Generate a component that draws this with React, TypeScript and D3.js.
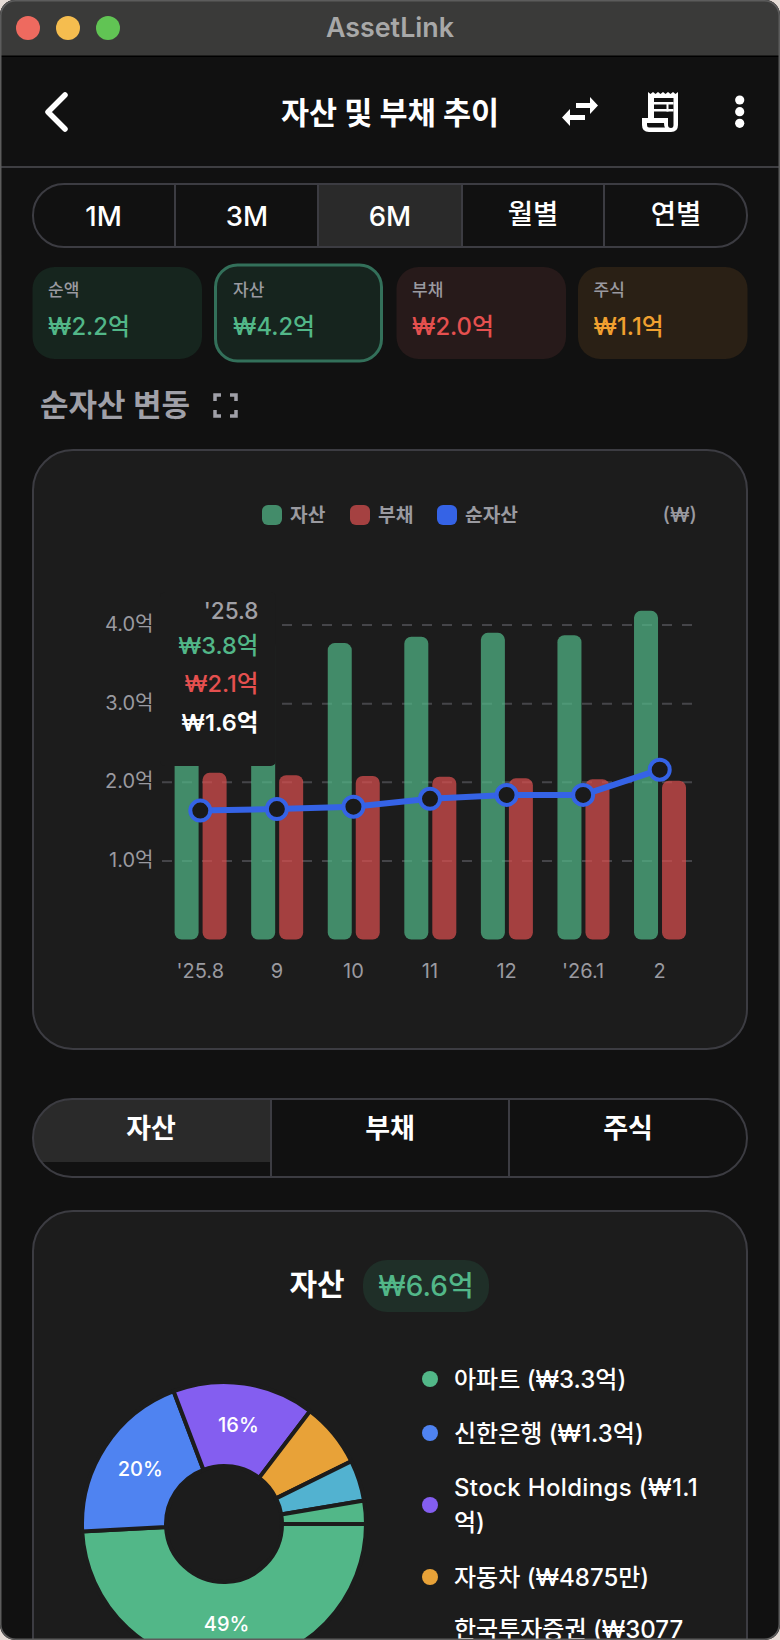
import React from "react";
import * as d3 from "d3";

const months = ["'25.8", "9", "10", "11", "12", "'26.1", "2"];
const assets = [3.8, 3.82, 3.77, 3.85, 3.9, 3.87, 4.18];
const liabilities = [2.12, 2.09, 2.08, 2.07, 2.05, 2.04, 2.02];
const netAssets = [1.64, 1.66, 1.69, 1.79, 1.84, 1.84, 2.16];
const yTicks = [1, 2, 3, 4];
const periodTabs = ["1M", "3M", "6M", "월별", "연별"];
const periodX = [103.5, 247, 390, 533, 676];
const periodDividers = [175, 318, 462, 604];
const summaryLabels = ["순액", "자산", "부채", "주식"];
const summaryValues = ["₩2.2억", "₩4.2억", "₩2.0억", "₩1.1억"];
const summaryColors = ["#52b788", "#52b788", "#e5504f", "#f0a030"];
const summaryFills = ["#16251e", "#16241e", "#271a1a", "#2a2015"];
const summaryBoxes = [32.5, 214, 396.5, 578];
const tooltipLines = ["'25.8", "₩3.8억", "₩2.1억", "₩1.6억"];
const tooltipColors = ["#a0a0a6", "#52b788", "#e5504f", "#ffffff"];
const tooltipY = [610, 645, 683, 722];
const detailTabs = ["자산", "부채", "주식"];
const detailX = [151, 390, 628];
const pieValues = [3.26, 1.33, 1.07, 0.4875, 0.3077, 0.175];
const pieColors = ["#52b788", "#4f83f1", "#845ef0", "#e8a238", "#52b2d0", "#52b788"];
const pieLegend = [
  { color: "#52b788", lines: ["아파트 (₩3.3억)"], y: 1379 },
  { color: "#4f83f1", lines: ["신한은행 (₩1.3억)"], y: 1433 },
  { color: "#845ef0", lines: ["Stock Holdings (₩1.1", "억)"], y: 1505 },
  { color: "#e8a238", lines: ["자동차 (₩4875만)"], y: 1577 },
];
const pieLegendCut = "한국투자증권 (₩3077";

const FONT = 'Inter, "Noto Sans CJK KR", sans-serif';
const BG = "#111111";
const CARD = "#1c1c1c";
const BORDER = "#3c3c42";
const GREY = "#9a9aa0";

const y = d3.scaleLinear().domain([0, 4]).range([939.6, 625]);
const x0 = d3.scaleBand<string>().domain(months).range([162, 698]);
const x1 = d3.scaleBand<string>().domain(["a", "l"]).range([12.6, 64.6]).paddingInner(1 / 7);
const netLine = d3
  .line<number>()
  .x((_, i) => (x0(months[i]) as number) + x0.bandwidth() / 2)
  .y((d) => y(d));
const pieGen = d3
  .pie<number>()
  .sort(null)
  .startAngle(Math.PI / 2)
  .endAngle(Math.PI / 2 + 2 * Math.PI);
const arcGen = d3.arc<d3.PieArcDatum<number>>().innerRadius(58).outerRadius(142);
const pieArcs = pieGen(pieValues);
const total = d3.sum(pieValues);

export default function App() {
  return (
    <svg
      width={780}
      height={1640}
      viewBox="0 0 780 1640"
      style={{ position: "fixed", left: 0, top: 0, display: "block" }}
      fontFamily={FONT}
    >
      <defs>
        <clipPath id="win">
          <rect x={0} y={0} width={780} height={1640} rx={15} />
        </clipPath>
        <clipPath id="seg2">
          <rect x={33} y={1099} width={714} height={78} rx={39} />
        </clipPath>
        <clipPath id="seg1">
          <rect x={33} y={184} width={714} height={63} rx={31} />
        </clipPath>
      </defs>
      <rect width={780} height={1640} fill="#e6dcd6" />
      <g clipPath="url(#win)">
        <rect width={780} height={1640} fill={BG} />
        <rect width={780} height={56} fill="#3a3a39" />
        <rect y={55.5} width={780} height={1.5} fill="#000" />
        {[["#ee6a5f", 28], ["#f5bd4f", 68], ["#61c454", 108]].map(([c, cx]) => (
          <circle key={c as string} cx={cx as number} cy={28} r={12} fill={c as string} />
        ))}
        <text x={390} y={27} textAnchor="middle" dominantBaseline="central" fontSize={26.8} fontWeight={600} fill="#a8a8a8">
          AssetLink
        </text>

        <path d="M65 95 L48 112 L65 129" fill="none" stroke="#fff" strokeWidth={5.5} strokeLinecap="round" strokeLinejoin="round" />
        <text x={390} y={112} textAnchor="middle" dominantBaseline="central" fontSize={30.5} fontWeight={700} fill="#fff">
          자산 및 부채 추이
        </text>
        <path d="M576 103 H590 V97 L598 105.5 L590 114 V108 H576 Z" fill="#fff" />
        <path d="M585 115 H570 V109 L562 117.5 L570 126 V120 H585 Z" fill="#fff" />
        <path
          fillRule="evenodd"
          fill="#fff"
          d="M648 92 l2.5 2 l2.5 -2 l2.5 2 l2.5 -2 l2.5 2 l2.5 -2 l2.5 2 l2.5 -2 l2.5 2 l2.5 -2 l2.5 2 l2.5 -2 V125 Q678 132 671 132 H649 Q642 132 642 125 V118 H648 Z
             M654 98 H673.5 V125 Q673.5 128 671 128 Q668 128 668 125 V118 H654 Z
             M647 123 H664 Q664 126 665 127.5 H649 Q647 127.5 647 125 Z"
        />
        <rect x={654} y={102} width={19.5} height={2.5} fill="#fff" />
        <rect x={654} y={109} width={19.5} height={2.5} fill="#fff" />
        <rect x={666.5} y={102} width={2} height={9.5} fill="#fff" />
        {[100, 111.7, 123.3].map((cy) => (
          <circle key={cy} cx={739.7} cy={cy} r={4.6} fill="#fff" />
        ))}
        <rect y={166} width={780} height={2} fill="#3e3e42" />

        <rect x={318} y={184} width={144} height={63} fill="#2a2a2a" clipPath="url(#seg1)" />
        <rect x={33} y={184} width={714} height={63} rx={31} fill="none" stroke={BORDER} strokeWidth={2} />
        {periodDividers.map((d) => (
          <rect key={d} x={d - 1} y={185} width={2} height={61} fill={BORDER} />
        ))}
        {periodTabs.map((t, i) => (
          <text key={t} x={periodX[i]} y={i < 3 ? 216 : 214} textAnchor="middle" dominantBaseline="central" fontSize={27.5} fontWeight={500} fill="#fff">
            {t}
          </text>
        ))}

        {summaryLabels.map((t, i) => {
          const selected = i === 1;
          return (
            <g key={t}>
              <rect
                x={summaryBoxes[i] + (selected ? 1.5 : 0)}
                y={selected ? 265 : 267}
                width={selected ? 166 : 169.5}
                height={selected ? 96 : 92}
                rx={22}
                fill={summaryFills[i]}
                stroke={selected ? "#33705a" : "none"}
                strokeWidth={3}
              />
              <text x={summaryBoxes[i] + (selected ? 19 : 15.5)} y={290} dominantBaseline="central" fontSize={17} fontWeight={500} fill={GREY}>
                {t}
              </text>
              <text x={summaryBoxes[i] + (selected ? 19 : 15.5)} y={326} dominantBaseline="central" fontSize={23.8} fontWeight={500} fill={summaryColors[i]}>
                {summaryValues[i]}
              </text>
            </g>
          );
        })}

        <text x={40} y={404} dominantBaseline="central" fontSize={31} fontWeight={700} fill="#a0a0a8">
          순자산 변동
        </text>
        <path
          d="M215 401 V395 H221 M230 395 H236 V401 M236 410 V416 H230 M221 416 H215 V410"
          fill="none"
          stroke="#a0a0a8"
          strokeWidth={3.5}
        />

        <rect x={33} y={450} width={714} height={599} rx={40} fill={CARD} stroke={BORDER} strokeWidth={2} />
        {[["자산", "#438c6a", 262, 290], ["부채", "#a54141", 350, 378], ["순자산", "#3563e6", 437, 465]].map(([t, c, sx, tx]) => (
          <g key={t as string}>
            <rect x={sx as number} y={505} width={20} height={20} rx={6} fill={c as string} />
            <text x={tx as number} y={515} dominantBaseline="central" fontSize={19.2} fontWeight={600} fill={GREY}>
              {t}
            </text>
          </g>
        ))}
        <text x={697} y={515} textAnchor="end" dominantBaseline="central" fontSize={20} fontWeight={500} fill={GREY}>
          (₩)
        </text>

        {yTicks.map((t) => (
          <g key={t}>
            <line x1={162} x2={692} y1={y(t)} y2={y(t)} stroke="#454549" strokeWidth={2} strokeDasharray="10 10" />
            <text x={153.5} y={y(t) - 1} textAnchor="end" dominantBaseline="central" fontSize={20} fill={GREY}>
              {t.toFixed(1)}억
            </text>
          </g>
        ))}

        {months.map((m, i) => {
          const b = x0(m) as number;
          return (
            <g key={m}>
              <rect x={b + (x1("a") as number)} y={y(assets[i])} width={x1.bandwidth()} height={y(0) - y(assets[i])} rx={7} fill="#52b788" fillOpacity={0.72} />
              <rect x={b + (x1("l") as number)} y={y(liabilities[i])} width={x1.bandwidth()} height={y(0) - y(liabilities[i])} rx={7} fill="#da4f4f" fillOpacity={0.72} />
              <text x={b + x0.bandwidth() / 2} y={970.5} textAnchor="middle" dominantBaseline="central" fontSize={20} fill={GREY}>
                {m}
              </text>
            </g>
          );
        })}

        <rect x={160} y={592} width={115.8} height={174} rx={5} fill={CARD} />
        {tooltipLines.map((t, i) => (
          <text key={t} x={258.5} y={tooltipY[i]} textAnchor="end" dominantBaseline="central" fontSize={i === 0 ? 22.5 : 23.5} fontWeight={i === 3 ? 600 : 500} fill={tooltipColors[i]}>
            {t}
          </text>
        ))}

        <path d={netLine(netAssets) as string} fill="none" stroke="#3563e6" strokeWidth={6} />
        {netAssets.map((v, i) => (
          <circle key={months[i]} cx={(x0(months[i]) as number) + x0.bandwidth() / 2} cy={y(v)} r={10} fill="#1a1a1a" stroke="#3563e6" strokeWidth={4} />
        ))}

        <rect x={33} y={1099} width={238} height={63} fill="#2a2a2a" clipPath="url(#seg2)" />
        <rect x={33} y={1099} width={714} height={78} rx={39} fill="none" stroke={BORDER} strokeWidth={2} />
        <rect x={270} y={1100} width={2} height={76} fill={BORDER} />
        <rect x={508} y={1100} width={2} height={76} fill={BORDER} />
        {detailTabs.map((t, i) => (
          <text key={t} x={detailX[i]} y={1128.5} textAnchor="middle" dominantBaseline="central" fontSize={27} fontWeight={600} fill="#fff">
            {t}
          </text>
        ))}

        <rect x={33} y={1211} width={714} height={520} rx={40} fill={CARD} stroke={BORDER} strokeWidth={2} />
        <text x={317} y={1284} textAnchor="middle" dominantBaseline="central" fontSize={30} fontWeight={700} fill="#fff">
          자산
        </text>
        <rect x={363} y={1260} width={126} height={52} rx={24} fill="#1f2f28" />
        <text x={426} y={1286} textAnchor="middle" dominantBaseline="central" fontSize={28} fontWeight={500} fill="#52b788">
          ₩6.6억
        </text>

        <g transform="translate(224,1524)">
          {pieArcs.map((a, i) => (
            <path key={i} d={arcGen(a) as string} fill={pieColors[i]} stroke={CARD} strokeWidth={4} />
          ))}
          {pieArcs.map((a, i) => {
            const pct = (a.value / total) * 100;
            if (pct < 10) return null;
            const [cx, cy] = arcGen.centroid(a);
            return (
              <text key={i} x={cx} y={cy} textAnchor="middle" dominantBaseline="central" fontSize={20} fontWeight={500} fill="#fff">
                {Math.round(pct)}%
              </text>
            );
          })}
        </g>

        {pieLegend.map((l) => (
          <g key={l.lines[0]}>
            <circle cx={430} cy={l.y} r={8} fill={l.color} />
            {l.lines.map((t, i) => (
              <text
                key={t}
                x={454}
                y={l.y + (i - (l.lines.length - 1) / 2) * 35}
                dominantBaseline="central"
                fontSize={24}
                fontWeight={500}
                fill="#fff"
                letterSpacing={l.lines.length > 1 && i === 0 ? 0.35 : 0}
              >
                {t}
              </text>
            ))}
          </g>
        ))}
        <text x={454} y={1629} dominantBaseline="central" fontSize={24} fontWeight={500} fill="#fff">
          {pieLegendCut}
        </text>
      </g>
      <rect x={0.75} y={0.75} width={778.5} height={1638.5} rx={15} fill="none" stroke="#5c5c5c" strokeWidth={1.5} />
    </svg>
  );
}
